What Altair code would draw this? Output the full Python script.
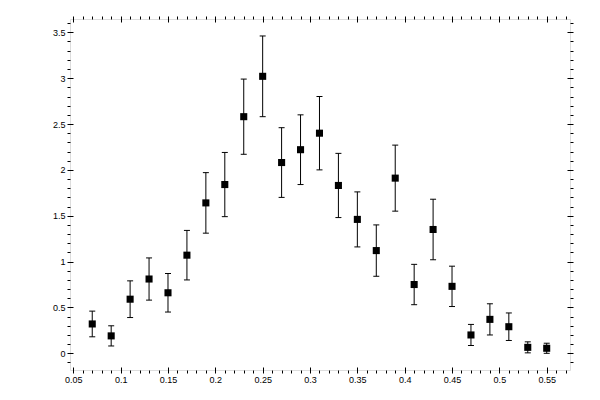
import altair as alt
import pandas as pd

x_vals = [0.07, 0.09, 0.11, 0.13, 0.15, 0.17, 0.19, 0.21, 0.23, 0.25, 0.27, 0.29, 0.31,
          0.33, 0.35, 0.37, 0.39, 0.41, 0.43, 0.45, 0.47, 0.49, 0.51, 0.53, 0.55]
y_vals = [0.32, 0.19, 0.59, 0.81, 0.66, 1.07, 1.64, 1.84, 2.58, 3.02, 2.08, 2.22, 2.40,
          1.83, 1.46, 1.12, 1.91, 0.75, 1.35, 0.73, 0.20, 0.37, 0.29, 0.065, 0.055]
errors = [0.14, 0.11, 0.20, 0.23, 0.21, 0.27, 0.33, 0.35, 0.41, 0.44, 0.38, 0.38, 0.40,
          0.35, 0.30, 0.28, 0.36, 0.22, 0.33, 0.22, 0.115, 0.17, 0.15, 0.06, 0.055]

x_ticks = [round(0.05 + 0.01 * i, 2) for i in range(53)]
y_ticks = [round(-0.1 + 0.1 * i, 1) for i in range(38)]

df = pd.DataFrame({"x": x_vals, "y": y_vals, "err": errors})
df["lo"] = df["y"] - df["err"]
df["hi"] = df["y"] + df["err"]

FONT = "Liberation Sans"
xmajor = "abs(datum.value*20 - round(datum.value*20)) < 0.001"
ymajor = "abs(datum.value*2 - round(datum.value*2)) < 0.001"

def axis(orient, values, major, labels):
    kw = dict(
        orient=orient, values=values, title=None, domain=False, grid=False,
        offset=-3, tickColor="black", tickWidth=1, tickSize=6,
        tickDash={"condition": {"test": major, "value": [10, 0]}, "value": [0, 3, 3]},
        labelFont=FONT, labelFontSize=9, labelColor="black", labelPadding=2,
        labelFlush=False, labelOverlap=False,
    )
    if labels:
        kw["labelExpr"] = "(" + major + ") ? toString(round(datum.value*100)/100) : ''"
    else:
        kw["labels"] = False
    return alt.Axis(**kw)

xs = alt.Scale(domain=[0.0465, 0.5746], nice=False, zero=False)
ys = alt.Scale(domain=[-0.182, 3.645], nice=False, zero=False)

base = alt.Chart(df)

bars = base.mark_rule(color="black", strokeWidth=1).encode(
    x=alt.X("x:Q", scale=xs, axis=axis("bottom", x_ticks, xmajor, True)),
    y=alt.Y("lo:Q", scale=ys, axis=axis("left", y_ticks, ymajor, True)),
    y2="hi:Q",
)

caps = base.transform_fold(["lo", "hi"], as_=["k", "v"]).mark_tick(
    color="black", orient="horizontal", size=6, thickness=1, opacity=1
).encode(
    x=alt.X("x:Q", scale=xs, axis=axis("top", x_ticks, xmajor, False)),
    y=alt.Y("v:Q", scale=ys, axis=axis("right", y_ticks, ymajor, False)),
)

pts = base.mark_point(shape="square", filled=True, color="black", size=50, opacity=1).encode(
    x=alt.X("x:Q", scale=xs, axis=None),
    y=alt.Y("y:Q", scale=ys, axis=None),
)

chart = alt.layer(bars, caps, pts).resolve_axis(
    x="independent", y="independent"
).properties(
    width=500, height=351,
    autosize=alt.AutoSizeParams(type="none"),
    padding={"left": 62, "top": 11, "right": 22, "bottom": 22},
).configure_view(stroke="black", strokeWidth=1).configure(background="white")

chart.save("out.html", embed_options={"renderer": "svg", "actions": False})
